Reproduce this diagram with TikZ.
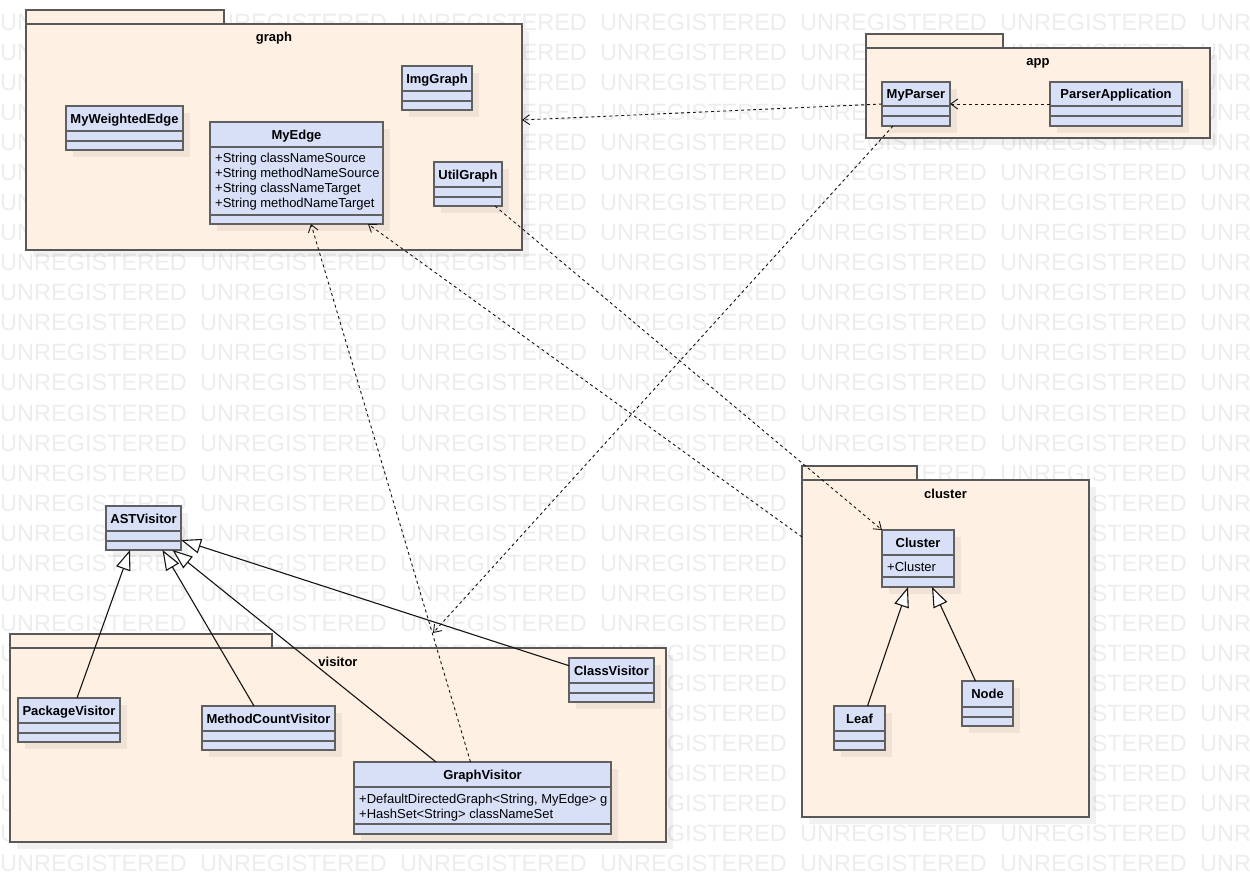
\documentclass[tikz,border=0pt]{standalone}
\usepackage{fontspec}
\setmainfont{Liberation Sans}
\usetikzlibrary{arrows.meta,calc}
\definecolor{wmc}{RGB}{237,237,237}
\definecolor{pkgfill}{RGB}{254,240,227}
\definecolor{pkgdraw}{RGB}{88,88,88}
\definecolor{clsfill}{RGB}{216,224,248}
\definecolor{clsdraw}{RGB}{96,96,96}
\definecolor{lnc}{RGB}{20,20,20}
\tikzset{
 shadowc/.style={fill=black, fill opacity=0.055},
 pkgbox/.style={draw=pkgdraw, fill=pkgfill, line width=1.8pt, inner sep=0pt, outer sep=0pt},
 clsbox/.style={draw=clsdraw, fill=clsfill, line width=1.6pt, inner sep=0pt, outer sep=0pt},
 clsline/.style={draw=clsdraw, line width=1.6pt},
 clsname/.style={font=\fontsize{13}{15}\selectfont\bfseries, anchor=base, inner sep=0pt},
 attrtext/.style={font=\fontsize{13}{15}\selectfont, anchor=base west, inner sep=0pt},
 pkgname/.style={font=\fontsize{13}{15}\selectfont\bfseries, anchor=base, inner sep=0pt},
 wmtext/.style={font=\fontsize{23.5}{26}\selectfont, text=wmc, anchor=base west, inner sep=0pt},
 depend/.style={draw=lnc, line width=0.9pt, dash pattern=on 3pt off 3pt, -{Straight Barb[length=7pt,width=10pt]}},
 general/.style={draw=lnc, line width=1.1pt, -{Triangle[length=20pt,width=15pt,fill=white]}},
}
% #1 name, #2 x1, #3 y1, #4 x2, #5 y2, #6 sep1, #7 sep2, #8 title
\newcommand\umlcls[8]{%
  \fill[shadowc] (#2+7,#3+7) rectangle (#4+7,#5+7);
  \node[clsbox, minimum width={(#4-#2)*1pt}, minimum height={(#5-#3)*1pt}] (cls-#1) at ({(#2+#4)/2},{(#3+#5)/2}) {};
  \draw[clsline] (#2,#6) -- (#4,#6) (#2,#7) -- (#4,#7);
  \node[clsname] (name-#1) at ({(#2+#4)/2},{(#3+#6)/2+4.7}) {#8};
}
\begin{document}
\begin{tikzpicture}[x=1pt,y=-1pt]
\useasboundingbox (0,0) rectangle (1250,882);
\fill[white] (0,0) rectangle (1250,882);
% watermark
\begin{scope}
\clip (0,0) rectangle (1250,882);
\foreach \i in {0,...,28} {
  \foreach \j in {0,...,6} {
    \node[wmtext] (wm-\i-\j) at (200*\j, 31+30*\i) {UNREGISTERED};
  }
}
\end{scope}
% packages
\fill[shadowc] (33,31) rectangle (529,257);
\draw[pkgbox] (26,10) rectangle (224,24);
\node[pkgbox, minimum width=496pt, minimum height=226pt] (graph) at (274,137) {};
\node[pkgname] (graph-label) at (274,42) {graph};

\fill[shadowc] (873,55) rectangle (1217,145);
\draw[pkgbox] (866,34) rectangle (1003,48);
\node[pkgbox, minimum width=344pt, minimum height=90pt] (app) at (1038,93) {};
\node[pkgname] (app-label) at (1038,66) {app};

\fill[shadowc] (809,487) rectangle (1096,824);
\draw[pkgbox] (802,466) rectangle (917,480);
\node[pkgbox, minimum width=287pt, minimum height=337pt] (cluster) at (945.5,648.5) {};
\node[pkgname] (cluster-label) at (945.5,498) {cluster};

\fill[shadowc] (17,655) rectangle (673,849);
\draw[pkgbox] (10,634) rectangle (272,648);
\node[pkgbox, minimum width=656pt, minimum height=194pt] (visitor) at (338,745) {};
\node[pkgname] (visitor-label) at (338,666) {visitor};

% classes
\umlcls{MyWeightedEdge}{66}{106}{183}{150}{131}{141}{MyWeightedEdge}
\umlcls{ImgGraph}{402}{66}{472}{110}{91}{101}{ImgGraph}
\umlcls{MyEdge}{210}{122}{383}{224}{147}{215}{MyEdge}
\node[attrtext] (a-me1) at (215,162.5) {+String classNameSource};
\node[attrtext] (a-me2) at (215,177.5) {+String methodNameSource};
\node[attrtext] (a-me3) at (215,192.5) {+String classNameTarget};
\node[attrtext] (a-me4) at (215,207.5) {+String methodNameTarget};
\umlcls{UtilGraph}{434}{162}{502}{206}{187}{197}{UtilGraph}
\umlcls{MyParser}{882}{82}{950}{126}{106}{116}{MyParser}
\umlcls{ParserApplication}{1050}{82}{1182}{126}{106}{116}{ParserApplication}
\umlcls{Cluster}{882}{530}{954}{587}{555}{577}{Cluster}
\node[attrtext] (a-cl1) at (887,571) {+Cluster};
\umlcls{Leaf}{834}{706}{885}{750}{731}{741}{Leaf}
\umlcls{Node}{962}{681}{1013}{726}{707}{717}{Node}
\umlcls{ASTVisitor}{106}{506}{181}{550}{531}{541}{ASTVisitor}
\umlcls{PackageVisitor}{18}{698}{120}{742}{723}{733}{PackageVisitor}
\umlcls{MethodCountVisitor}{202}{706}{335}{750}{731}{741}{MethodCountVisitor}
\umlcls{ClassVisitor}{569}{658}{654}{702}{683}{693}{ClassVisitor}
\umlcls{GraphVisitor}{354}{762}{611}{834}{787}{824}{GraphVisitor}
\node[attrtext] (a-gv1) at (359,803) {+DefaultDirectedGraph<String, MyEdge> g};
\node[attrtext] (a-gv2) at (359,818) {+HashSet<String> classNameSet};

% dependencies
\draw[depend] (cls-MyParser.west) -- ([yshift=17pt]graph.east);
\draw[depend] (cls-ParserApplication.west) -- (cls-MyParser.east);
\draw[depend] ([xshift=-23pt]cls-MyParser.south) -- ([xshift=95pt,yshift=15pt]visitor.north);
\draw[depend] ([xshift=27pt]cls-UtilGraph.south) -- (cls-Cluster.north west);
\draw[depend] ([yshift=111.5pt]cluster.west) -- ([xshift=71.5pt]cls-MyEdge.south);
\draw[depend] ([xshift=-12pt]cls-GraphVisitor.north) -- ([xshift=14.5pt]cls-MyEdge.south);

% generalizations
\draw[general] ([xshift=8pt]cls-PackageVisitor.north) -- ([xshift=-13.5pt]cls-ASTVisitor.south);
\draw[general] ([xshift=-14.5pt]cls-MethodCountVisitor.north) -- ([xshift=19pt]cls-ASTVisitor.south);
\draw[general] ([xshift=-46.5pt]cls-GraphVisitor.north) -- ([xshift=29pt]cls-ASTVisitor.south);
\draw[general] ([yshift=14.3pt]cls-ClassVisitor.west) -- ([yshift=-12pt]cls-ASTVisitor.east);
\draw[general] ([xshift=8pt]cls-Leaf.north) -- ([xshift=-10pt]cls-Cluster.south);
\draw[general] ([xshift=-12pt]cls-Node.north) -- ([xshift=14pt]cls-Cluster.south);
\end{tikzpicture}
\end{document}
